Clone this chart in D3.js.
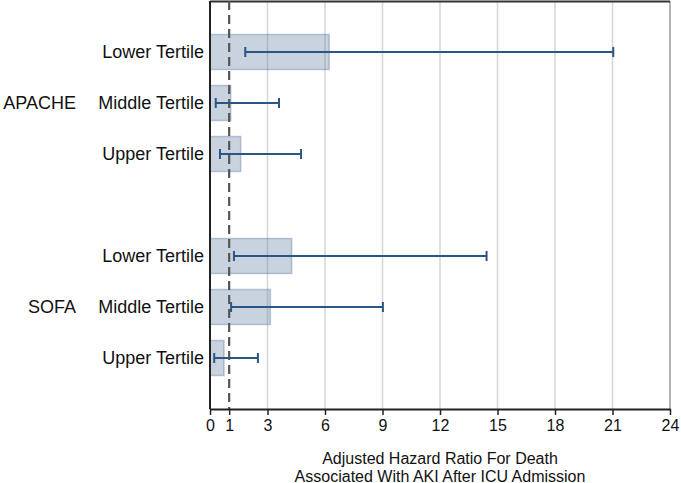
<!DOCTYPE html>
<html>
<head>
<meta charset="utf-8">
<script src="https://cdn.jsdelivr.net/npm/d3@7"></script>
<style>
  html, body { margin: 0; padding: 0; background: #fff; }
  text { font-family: "Liberation Sans", Arial, sans-serif; fill: #111; }
</style>
</head>
<body>
<svg id="chart" width="681" height="483"></svg>
<script>
// ---- data ----
const rowKeys   = ["A-L", "A-M", "A-U", "gap", "S-L", "S-M", "S-U"];
const rowLabels = ["Lower Tertile", "Middle Tertile", "Upper Tertile", "", "Lower Tertile", "Middle Tertile", "Upper Tertile"];
const groups    = ["APACHE", "SOFA"];
const groupRows = ["A-M", "S-M"];
const hazardRatio = [6.22, 1.08, 1.6, null, 4.26, 3.15, 0.73];
const ciLower     = [1.84, 0.3, 0.52, null, 1.25, 1.1, 0.22];
const ciUpper     = [21.04, 3.6, 4.75, null, 14.43, 9.02, 2.5];
const xTicks      = [0, 1, 3, 6, 9, 12, 15, 18, 21, 24];
const gridTicks   = [3, 6, 9, 12, 15, 18, 21];
const refValue    = 1;
const axisTitle   = ["Adjusted Hazard Ratio For Death", "Associated With AKI After ICU Admission"];

const svg = d3.select("#chart");
const L = 210, R = 670, T = 1, B = 409;

const x = d3.scaleLinear().domain([0, 24]).range([L, R]);
const y = d3.scalePoint().domain(rowKeys).range([T, B]).padding(1);
const barH = 35;

// grid lines
svg.append("g").selectAll("line").data(gridTicks).join("line")
  .attr("x1", d => x(d)).attr("x2", d => x(d))
  .attr("y1", T).attr("y2", B)
  .attr("stroke", "#d6d6d6").attr("stroke-width", 1.5);

// right border
svg.append("line").attr("x1", R).attr("x2", R).attr("y1", T).attr("y2", B)
  .attr("stroke", "#9a9a9a").attr("stroke-width", 1.5);
// top border
svg.append("line").attr("x1", L).attr("x2", R).attr("y1", T + 0.5).attr("y2", T + 0.5)
  .attr("stroke", "#333").attr("stroke-width", 2);

const rows = rowKeys.map((k, i) => ({ k, hr: hazardRatio[i], lo: ciLower[i], hi: ciUpper[i] }))
  .filter(d => d.hr !== null);

// bars
svg.append("g").selectAll("rect").data(rows).join("rect")
  .attr("x", x(0))
  .attr("y", d => y(d.k) - barH / 2)
  .attr("width", d => x(d.hr) - x(0))
  .attr("height", barH)
  .attr("fill", "rgb(74,110,150)").attr("fill-opacity", 0.3)
  .attr("stroke", "rgb(74,110,150)").attr("stroke-opacity", 0.35).attr("stroke-width", 1.5);

// reference dashed line
svg.append("line")
  .attr("x1", x(refValue)).attr("x2", x(refValue))
  .attr("y1", T).attr("y2", B)
  .attr("stroke", "#555").attr("stroke-width", 2.2)
  .attr("stroke-dasharray", "9,5");

// error bars
const eb = svg.append("g").attr("stroke", "#2b5683").attr("stroke-width", 2).attr("fill", "none");
eb.selectAll("line.h").data(rows).join("line").attr("class", "h")
  .attr("x1", d => x(d.lo)).attr("x2", d => x(d.hi))
  .attr("y1", d => y(d.k)).attr("y2", d => y(d.k));
eb.selectAll("line.cl").data(rows).join("line").attr("class", "cl")
  .attr("x1", d => x(d.lo)).attr("x2", d => x(d.lo))
  .attr("y1", d => y(d.k) - 5).attr("y2", d => y(d.k) + 5);
eb.selectAll("line.ch").data(rows).join("line").attr("class", "ch")
  .attr("x1", d => x(d.hi)).attr("x2", d => x(d.hi))
  .attr("y1", d => y(d.k) - 5).attr("y2", d => y(d.k) + 5);

// left axis line
svg.append("line").attr("x1", L).attr("x2", L).attr("y1", T).attr("y2", B)
  .attr("stroke", "#222").attr("stroke-width", 2);

// bottom axis
const xAxis = d3.axisBottom(x).tickValues(xTicks).tickSize(6).tickSizeOuter(0).tickPadding(5);
const gx = svg.append("g").attr("transform", `translate(0,${B})`).call(xAxis);
gx.select(".domain").attr("stroke", "#222").attr("stroke-width", 2);
gx.selectAll(".tick line").attr("stroke", "#222").attr("stroke-width", 1.5);
gx.selectAll(".tick text").attr("font-size", 16).attr("fill", "#111")
  .style("font-family", '"Liberation Sans", Arial, sans-serif');

// row labels
svg.append("g").selectAll("text").data(rowKeys.map((k, i) => ({ k, t: rowLabels[i] })).filter(d => d.t))
  .join("text")
  .attr("x", 204).attr("y", d => y(d.k)).attr("dy", "0.36em")
  .attr("text-anchor", "end").attr("font-size", 18)
  .text(d => d.t);

// group labels
svg.append("g").selectAll("text").data(groups).join("text")
  .attr("x", 76).attr("y", (d, i) => y(groupRows[i])).attr("dy", "0.36em")
  .attr("text-anchor", "end").attr("font-size", 18)
  .text(d => d);

// axis title
svg.append("text").attr("text-anchor", "middle").attr("font-size", 16)
  .selectAll("tspan").data(axisTitle).join("tspan")
  .attr("x", (L + R) / 2).attr("y", (d, i) => 464 + i * 17.5)
  .text(d => d);
</script>
</body>
</html>
